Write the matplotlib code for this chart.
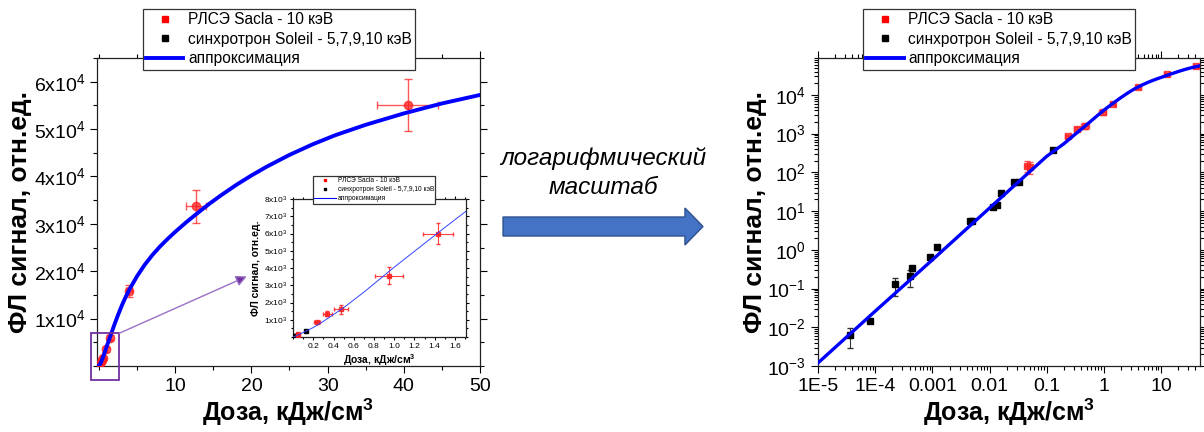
import matplotlib
matplotlib.use('Agg')
import matplotlib.pyplot as plt
from matplotlib.lines import Line2D
from matplotlib.patches import Rectangle, FancyArrow
from matplotlib.ticker import AutoMinorLocator, LogLocator, NullFormatter

plt.rcParams['font.family'] = ['Liberation Sans', 'DejaVu Sans']
plt.rcParams['mathtext.fontset'] = 'custom'
plt.rcParams['mathtext.rm'] = 'Liberation Sans'
plt.rcParams['mathtext.it'] = 'Liberation Sans:italic'
plt.rcParams['mathtext.bf'] = 'Liberation Sans:bold'

# XFEL SACLA, 10 keV
red_x = [0.046, 0.05, 0.24, 0.34, 0.47, 0.95, 1.43, 4.0, 12.7, 40.5]
red_y = [150, 140, 850, 1350, 1600, 3550, 6000, 15800, 33700, 55000]
red_xerr = [0.004, 0.005, 0.03, 0.04, 0.07, 0.14, 0.15, 0.4, 1.3, 4.0]
red_yerr = [50, 50, 80, 150, 250, 500, 600, 1300, 3500, 5500]

# synchrotron SOLEIL, 5-10 keV
blk_x = [3.6e-5, 8e-5, 2.2e-4, 4.07e-4, 4.4e-4, 9.1e-4, 1.23e-3, 4.5e-3, 4.9e-3,
         0.0115, 0.0137, 0.0161, 0.0266, 0.0326, 0.127]
blk_y = [6.2e-3, 0.0147, 0.128, 0.207, 0.334, 0.67, 1.17, 5.5, 5.5,
         12.5, 14.4, 29.4, 56.7, 56.7, 376]
blk_yerr = [3.2e-3, 1e-3, 0.063, 0.095, 0.05, 0.05, 0.08, 0.4, 0.4,
            1, 1, 2, 4, 4, 30]

# approximation curve
fit_x = [1e-5, 1e-4, 1e-3, 1e-2, 0.1, 0.2, 0.3, 0.5, 0.7, 1.0, 1.5, 2.0, 2.5, 3.0,
         3.5, 4.0, 5.0, 6.0, 7.0, 8.0, 9.0, 10.0, 11.5, 13.0, 14.5, 16.0, 18.0,
         20.0, 22.0, 25.0, 28.0, 31.0, 35.0, 40.0, 45.0, 50.0]
fit_y = [1.2e-3, 0.026, 0.55, 12, 260, 550, 910, 1700, 2600, 4050, 6350, 8600, 10750, 12750,
         14550, 16150, 18950, 21350, 23400, 25200, 26800, 28300, 30400, 32350, 34250, 36000, 38200,
         40200, 42050, 44550, 46750, 48700, 50900, 53300, 55400, 57200]

lin_yticks = [1e4, 2e4, 3e4, 4e4, 5e4, 6e4]
lin_ylabels = [r'1x10$^{4}$', r'2x10$^{4}$', r'3x10$^{4}$', r'4x10$^{4}$', r'5x10$^{4}$', r'6x10$^{4}$']
ins_yticks = [1e3, 2e3, 3e3, 4e3, 5e3, 6e3, 7e3, 8e3]
ins_ylabels = [r'%dx10$^{3}$' % i for i in range(1, 9)]
log_xticks = [1e-5, 1e-4, 1e-3, 1e-2, 0.1, 1, 10]
log_xlabels = ['1E-5', '1E-4', '0.001', '0.01', '0.1', '1', '10']

lbl_red = 'РЛСЭ Sacla - 10 кэВ'
lbl_blk = 'синхротрон Soleil - 5,7,9,10 кэВ'
lbl_fit = 'аппроксимация'
xlab = r'Доза, кДж/см$^{\mathbf{3}}$'
ylab = 'ФЛ сигнал, отн.ед.'

RED = '#ff2020'
BLUE = '#0000ff'
PURPLE = '#7030a0'


def style_axes(ax, size, length=5):
    ax.tick_params(which='both', direction='out', top=True, right=True, labelsize=size)
    ax.tick_params(which='major', length=length, width=0.8)
    ax.tick_params(which='minor', length=length * 0.6, width=0.8)
    for s in ax.spines.values():
        s.set_linewidth(0.9)
        s.set_color('#222222')


def add_legend(ax, size, anchor, ms, lw, hl):
    handles = [Line2D([], [], ls='none', marker='s', color='red', ms=ms),
               Line2D([], [], ls='none', marker='s', color='black', ms=ms),
               Line2D([], [], color=BLUE, lw=lw)]
    leg = ax.legend(handles, [lbl_red, lbl_blk, lbl_fit], loc='upper left',
                    bbox_to_anchor=anchor, borderaxespad=0, fontsize=size,
                    fancybox=False, framealpha=1, edgecolor='#333333',
                    handlelength=hl, handletextpad=0.3, labelspacing=0.3,
                    borderpad=0.2)
    leg.get_frame().set_linewidth(0.9)
    leg.set_zorder(20)
    return leg


fig = plt.figure(figsize=(12.04, 4.32), dpi=100)

# ---- linear scale ----
ax1 = fig.add_axes([0.0806, 0.1528, 0.3181, 0.713])
ax1.errorbar(red_x, red_y, xerr=red_xerr, yerr=red_yerr, fmt='o', color=RED, ms=6,
             ecolor=RED, elinewidth=1, capsize=3, alpha=0.75, zorder=3)
ax1.plot(blk_x, blk_y, 's', color='black', ms=3, zorder=3)
ax1.plot(fit_x, fit_y, color=BLUE, lw=2.8, zorder=4)
ax1.set_xlim(-0.25, 50)
ax1.set_ylim(0, 6.5e4)
ax1.set_xticks([10, 20, 30, 40, 50])
ax1.set_yticks(lin_yticks)
ax1.set_yticklabels(lin_ylabels)
ax1.xaxis.set_minor_locator(AutoMinorLocator(2))
ax1.yaxis.set_minor_locator(AutoMinorLocator(2))
style_axes(ax1, 14)
ax1.set_xlabel(xlab, fontsize=18, fontweight='bold', labelpad=1)
ax1.set_ylabel(ylab, fontsize=19, fontweight='bold', labelpad=1)
add_legend(ax1, 11.2, (0.12, 1.159), 4.5, 2.8, 2.4)

# zoomed region marker and pointer to the inset
ax1.add_patch(Rectangle((-1.0, -3000), 3.66, 9900, fill=False, ec=PURPLE, lw=1.3,
                        clip_on=False, zorder=6))
ax1.annotate('', xy=(19.4, 1.89e4), xytext=(2.66, 6900),
             arrowprops=dict(arrowstyle='-|>', color='#9a6fc4', lw=1,
                             mutation_scale=16, fc=PURPLE, shrinkA=0, shrinkB=0),
             zorder=6)

# ---- inset ----
axi = fig.add_axes([0.2434, 0.2199, 0.1437, 0.3194])
axi.errorbar(red_x, red_y, xerr=red_xerr, yerr=red_yerr, fmt='s', color=RED, ms=2.5,
             ecolor=RED, elinewidth=0.8, capsize=1.5, alpha=0.85, zorder=3)
axi.plot(blk_x, blk_y, 's', color='black', ms=2.5, zorder=3)
axi.plot(fit_x, fit_y, color='#3344ff', lw=0.7, zorder=4)
axi.set_xlim(0, 1.71)
axi.set_ylim(0, 8000)
axi.set_xticks([0.2, 0.4, 0.6, 0.8, 1.0, 1.2, 1.4, 1.6])
axi.set_yticks(ins_yticks)
axi.set_yticklabels(ins_ylabels)
axi.xaxis.set_minor_locator(AutoMinorLocator(2))
axi.yaxis.set_minor_locator(AutoMinorLocator(2))
style_axes(axi, 6, length=2.5)
axi.tick_params(pad=1.5)
axi.set_xlabel(xlab, fontsize=7.5, fontweight='bold', labelpad=2)
axi.set_ylabel(ylab, fontsize=7.5, fontweight='bold', labelpad=2)
add_legend(axi, 4.8, (0.116, 1.167), 1.8, 0.8, 3.2)

# ---- transition arrow ----
fig.patches.append(FancyArrow(0.4178, 0.4757, 0.1661, 0, width=0.044, head_width=0.0856,
                              head_length=0.0150, length_includes_head=True,
                              transform=fig.transFigure, fc='#4472c4', ec='#2f528f', lw=1))
fig.text(0.501, 1 - 158 / 432, 'логарифмический', ha='center', va='center',
         fontsize=17.5, style='italic')
fig.text(0.501, 1 - 188 / 432, 'масштаб', ha='center', va='center',
         fontsize=17.5, style='italic')

# ---- log scale ----
ax2 = fig.add_axes([0.6794, 0.1528, 0.3173, 0.713])
ax2.set_xscale('log')
ax2.set_yscale('log')
ax2.errorbar(red_x, red_y, xerr=red_xerr, yerr=red_yerr, fmt='s', color=RED, ms=5,
             ecolor=RED, elinewidth=0.8, capsize=2, alpha=0.75, zorder=3)
ax2.errorbar(blk_x, blk_y, yerr=blk_yerr, fmt='s', color='black', ms=5,
             ecolor='#333333', elinewidth=0.8, capsize=2.5, zorder=3)
ax2.plot(fit_x, fit_y, color=BLUE, lw=2.4, zorder=4)
ax2.set_xlim(1e-5, 48)
ax2.set_ylim(1e-3, 9e4)
ax2.set_xticks(log_xticks)
ax2.set_xticklabels(log_xlabels)
ax2.xaxis.set_minor_locator(LogLocator(base=10, subs=range(2, 10), numticks=20))
ax2.xaxis.set_minor_formatter(NullFormatter())
ax2.set_yticks([10.0 ** k for k in range(-3, 5)])
ax2.yaxis.set_minor_locator(LogLocator(base=10, subs=range(2, 10), numticks=20))
ax2.yaxis.set_minor_formatter(NullFormatter())
style_axes(ax2, 14)
ax2.set_xlabel(xlab, fontsize=18, fontweight='bold', labelpad=1)
ax2.set_ylabel(ylab, fontsize=19, fontweight='bold', labelpad=0)
add_legend(ax2, 11.2, (0.118, 1.159), 4.5, 2.8, 2.4)

fig.savefig('out.png', dpi=100)
